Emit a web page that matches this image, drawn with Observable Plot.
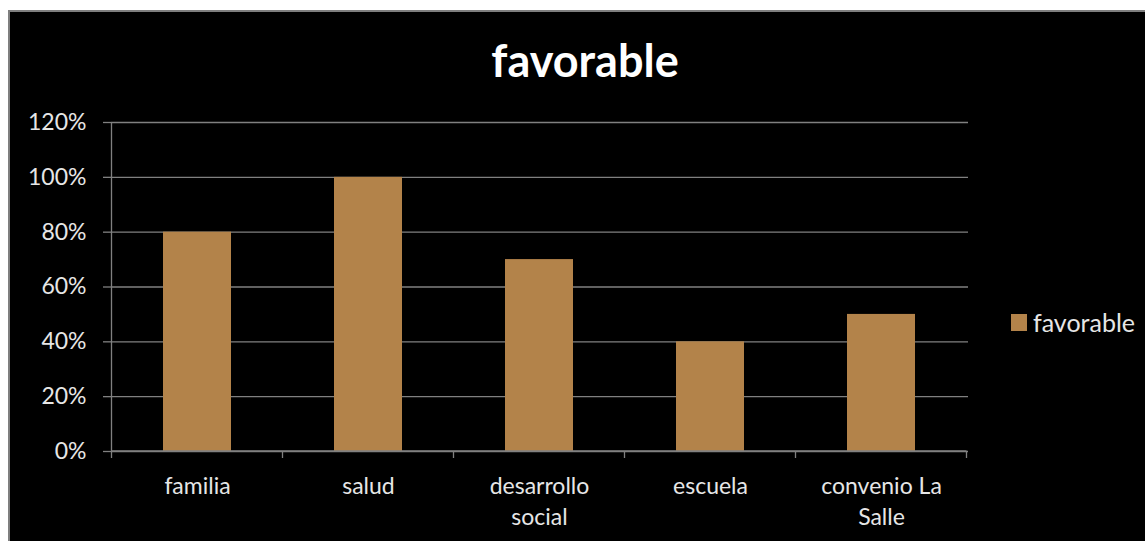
<!DOCTYPE html>
<html>
<head>
<meta charset="utf-8">
<script src="https://cdn.jsdelivr.net/npm/d3@7"></script>
<script src="https://cdn.jsdelivr.net/npm/@observablehq/plot@0.6"></script>
<style>
  html, body { margin: 0; padding: 0; background: #ffffff; width: 1145px; height: 541px; overflow: hidden; }
  #frame { position: absolute; left: 8px; top: 10px; width: 1145px; height: 541px; background: #000; border-left: 2px solid #7f7f7f; border-top: 2px solid #7f7f7f; box-sizing: border-box; }
  #chart { position: absolute; left: 0; top: 0; }
  #title { position: absolute; left: 0; width: 1170px; top: 33px; text-align: center; color: #ffffff; font-family: Lato, "Open Sans", sans-serif; font-weight: bold; font-size: 45px; line-height: 1.2; }
  #legend { position: absolute; left: 1011px; top: 307px; color: #e6e6e6; font-family: Lato, "Open Sans", sans-serif; font-size: 25px; display: flex; align-items: center; }
  #legend .sw { width: 16px; height: 17px; margin-right: 6px; }
</style>
</head>
<body>
<div id="frame"></div>
<div id="chart"></div>
<div id="title"></div>
<div id="legend"><div class="sw"></div><span></span></div>
<script>
const categories = ["familia", "salud", "desarrollo social", "escuela", "convenio La Salle"];
const tickLabels = ["familia", "salud", "desarrollo\nsocial", "escuela", "convenio La\nSalle"];
const values = [0.80, 1.00, 0.70, 0.40, 0.50];
const yTicks = [0, 0.2, 0.4, 0.6, 0.8, 1.0, 1.2];
const seriesName = "favorable";
const barColor = "#b3834a";
const gridColor = "#808080";

const data = categories.map((c, i) => ({category: c, value: values[i]}));
const labelOf = new Map(categories.map((c, i) => [c, tickLabels[i]]));

document.getElementById("title").textContent = seriesName;
document.querySelector("#legend span").textContent = seriesName;
document.querySelector("#legend .sw").style.background = barColor;

const chart = Plot.plot({
  width: 1145,
  height: 541,
  marginLeft: 111,
  marginRight: 177,
  marginTop: 122,
  marginBottom: 90,
  style: { background: "transparent", color: "#e6e6e6", fontFamily: "Lato, 'Open Sans', sans-serif", fontSize: "23px", overflow: "visible" },
  x: { domain: categories, paddingInner: 0.6, paddingOuter: 0.3, label: null },
  y: { domain: [0, 1.2], label: null },
  marks: [
    Plot.ruleY(yTicks, { stroke: gridColor, strokeWidth: 1.3 }),
    Plot.barY(data, { x: "category", y: "value", fill: barColor }),
    Plot.axisY({ ticks: yTicks, tickFormat: d => Math.round(d * 100) + "%", tickSize: 8, tickPadding: 17, stroke: gridColor, strokeWidth: 1.3, fontSize: 23, fill: "#e6e6e6" }),
    Plot.axisX({ tickSize: 0, tickPadding: 20, tickFormat: d => labelOf.get(d), fontSize: 23, fill: "#e6e6e6", lineHeight: 1.35 })
  ]
});

// draw axis lines and boundary ticks using the chart's own scales
const xs = chart.scale("x");
const ys = chart.scale("y");
const svg = d3.select(chart);
const g = svg.append("g").attr("stroke", gridColor).attr("stroke-width", 1.3);
const y0 = ys.apply(0);
const yTop = ys.apply(1.2);
const half = (xs.step - xs.bandwidth) / 2;
const bounds = categories.map(c => xs.apply(c) - half);
bounds.push(xs.apply(categories[categories.length - 1]) + xs.bandwidth + half);
g.append("line").attr("x1", bounds[0]).attr("x2", bounds[0]).attr("y1", yTop).attr("y2", y0);
g.append("line").attr("x1", bounds[0]).attr("x2", bounds[bounds.length - 1]).attr("y1", y0).attr("y2", y0);
bounds.forEach(b => g.append("line").attr("x1", b).attr("x2", b).attr("y1", y0).attr("y2", y0 + 7));

document.getElementById("chart").appendChild(chart);
</script>
</body>
</html>
